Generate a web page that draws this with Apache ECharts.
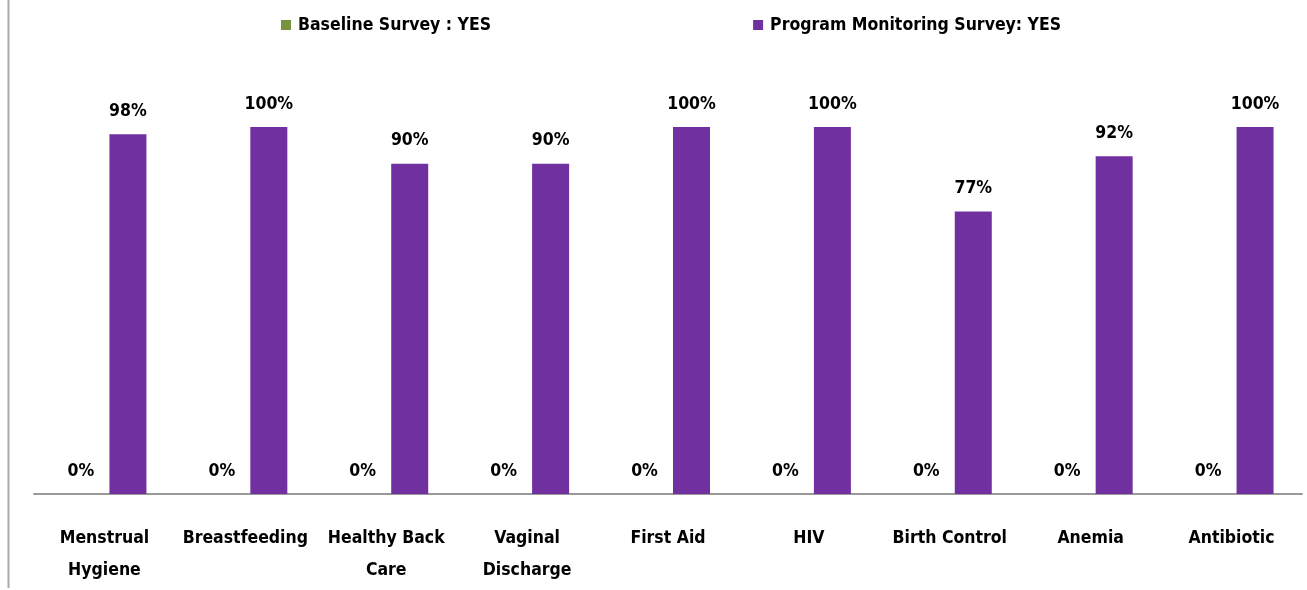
<!DOCTYPE html>
<html>
<head>
<meta charset="utf-8">
<script src="https://cdn.jsdelivr.net/npm/echarts@6/dist/echarts.min.js"></script>
<style>
  html, body { margin: 0; padding: 0; background: #fff; }
  #chart { width: 1307px; height: 590px; }
</style>
</head>
<body>
<div id="chart"></div>
<script>
const categories = ['Menstrual\nHygiene', 'Breastfeeding', 'Healthy Back\nCare', 'Vaginal\nDischarge',
  'First Aid', 'HIV', 'Birth Control', 'Anemia', 'Antibiotic'];
const seriesNames = ['Baseline Survey : YES', 'Program Monitoring Survey: YES'];
const baselineYes = [0, 0, 0, 0, 0, 0, 0, 0, 0];
const monitoringYes = [98, 100, 90, 90, 100, 100, 77, 92, 100];

const FONT = '"DejaVu Sans Condensed", sans-serif';

const chart = echarts.init(document.getElementById('chart'));

const labelStyle = {
  show: true,
  position: 'top',
  distance: 14,
  formatter: '{c}%',
  color: '#000',
  fontFamily: FONT,
  fontWeight: 'bold',
  fontSize: 17.5
};

chart.setOption({
  animation: false,
  legend: {
    left: 276,
    top: 11,
    itemWidth: 10,
    itemHeight: 10,
    itemGap: 262,
    icon: 'rect',
    textStyle: { fontFamily: FONT, fontWeight: 'bold', fontSize: 17.5, color: '#000', padding: [0, 0, 0, 2] },
    data: seriesNames
  },
  grid: { left: 34, right: 5, top: 127, bottom: 96 },
  xAxis: {
    type: 'category',
    data: categories,
    axisLine: { lineStyle: { color: '#999', width: 2 } },
    axisTick: { show: false },
    axisLabel: {
      interval: 0,
      margin: 28,
      lineHeight: 32,
      color: '#000',
      fontFamily: FONT,
      fontWeight: 'bold',
      fontSize: 17.5
    }
  },
  yAxis: {
    type: 'value',
    min: 0,
    max: 100,
    show: false
  },
  series: [
    {
      name: seriesNames[0],
      type: 'bar',
      data: baselineYes,
      barWidth: 37,
      barGap: '27%',
      itemStyle: { color: '#77933C' },
      label: labelStyle
    },
    {
      name: seriesNames[1],
      type: 'bar',
      data: monitoringYes,
      barWidth: 37,
      itemStyle: { color: '#7030A0' },
      label: labelStyle
    }
  ],
  graphic: [
    {
      type: 'line',
      shape: { x1: 8.5, y1: 0, x2: 8.5, y2: 588 },
      style: { stroke: '#aaa', lineWidth: 2 }
    }
  ]
});
</script>
</body>
</html>
